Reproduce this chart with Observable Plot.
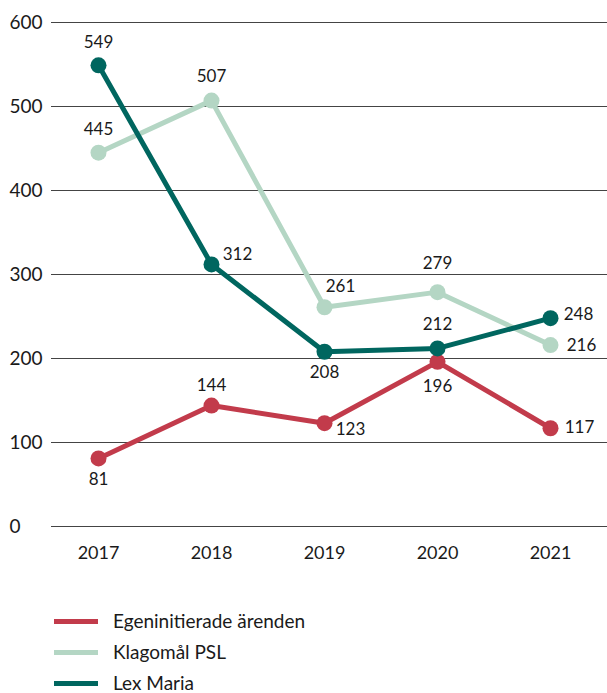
<!DOCTYPE html>
<html>
<head>
<meta charset="utf-8">
<script src="https://cdn.jsdelivr.net/npm/d3@7"></script>
<script src="https://cdn.jsdelivr.net/npm/@observablehq/plot@0.6"></script>
<style>
  html, body { margin: 0; padding: 0; background: #fff; }
  body { width: 607px; font-family: Lato, "Noto Sans", sans-serif; color: #1a1a1a; }
  #chart svg { display: block; }
  #legend { margin-top: 26px; padding-left: 54px; }
  .row { display: flex; align-items: center; height: 31px; line-height: 1.1; font-size: 19px; }
  .sw { width: 44px; height: 5px; margin-right: 15px; }
</style>
</head>
<body>
<div id="chart"></div>
<div id="legend"></div>
<script>
const years = [2017, 2018, 2019, 2020, 2021];
const seriesNames = ["Egeninitierade ärenden", "Klagomål PSL", "Lex Maria"];
const colors = ["#c23b4b", "#b4d6c4", "#00665f"];
const egen = [81, 144, 123, 196, 117];
const klagomal = [445, 507, 261, 279, 216];
const lexMaria = [549, 312, 208, 212, 248];
const yTicks = [0, 100, 200, 300, 400, 500, 600];
// label placement per point: [dx, dy]
const egenPos = [[0, 21], [0, -20], [26, 6], [0, 25], [29, -1]];
const klagPos = [[0, -23], [0, -24], [16, -21], [0, -29], [31, 0]];
const lexPos = [[0, -23], [26, -10], [0, 21], [0, -24], [28, -4]];

const rows = [];
[[egen, egenPos], [klagomal, klagPos], [lexMaria, lexPos]].forEach(([vals, pos], si) => {
  vals.forEach((v, i) => rows.push({series: seriesNames[si], year: years[i], value: v, dx: pos[i][0], dy: pos[i][1]}));
});

const lineMarks = seriesNames.map((s, si) => [
  Plot.line(rows.filter(d => d.series === s), {x: "year", y: "value", stroke: colors[si], strokeWidth: 5}),
  Plot.dot(rows.filter(d => d.series === s), {x: "year", y: "value", r: 8, fill: colors[si]})
]);

const labelMarks = rows.map(d => Plot.text([d], {x: "year", y: "value", text: d => String(d.value), dx: d.dx, dy: d.dy, fontSize: 17, fill: "#1a1a1a"}));

const chart = Plot.plot({
  width: 607,
  height: 580,
  marginLeft: 51,
  marginRight: 0,
  marginTop: 22,
  marginBottom: 54,
  style: {fontFamily: "Lato, 'Noto Sans', sans-serif", background: "#fff"},
  x: {type: "point", domain: years, range: [96, 551], padding: 0},
  y: {domain: [0, 600], ticks: yTicks},
  marks: [
    Plot.ruleY(yTicks, {stroke: "#444", strokeWidth: 1}),
    Plot.axisY(yTicks, {tickSize: 0, tickPadding: 0, textAnchor: "start", dx: -42, fontSize: 19, fill: "#1a1a1a", label: null}),
    Plot.axisX(years, {tickSize: 0, tickPadding: 20, fontSize: 18, fill: "#1a1a1a", label: null, tickFormat: d => String(d)}),
    ...lineMarks[1], ...lineMarks[0], ...lineMarks[2],
    ...labelMarks
  ]
});
document.getElementById("chart").appendChild(chart);

const legend = document.getElementById("legend");
seriesNames.forEach((s, i) => {
  const row = document.createElement("div");
  row.className = "row";
  const sw = document.createElement("div");
  sw.className = "sw";
  sw.style.background = colors[i];
  const t = document.createElement("span");
  t.textContent = s;
  row.appendChild(sw); row.appendChild(t);
  legend.appendChild(row);
});
</script>
</body>
</html>
